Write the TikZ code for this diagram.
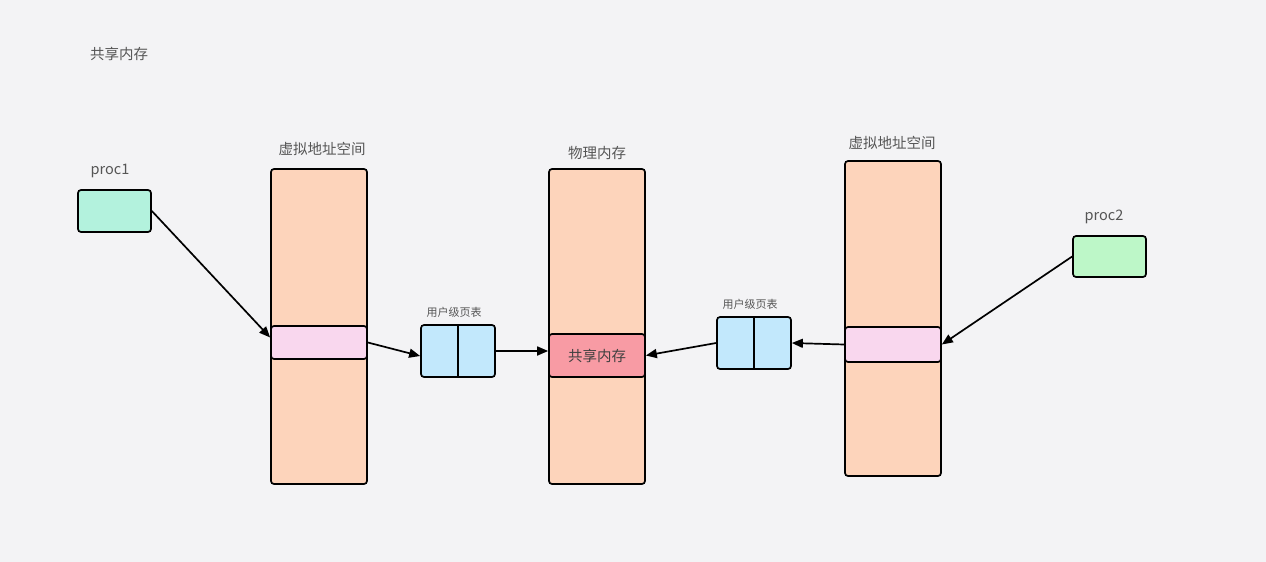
\documentclass[tikz,border=0pt]{standalone}
\usepackage{fontspec}
\setmainfont{Noto Sans CJK SC}
\usetikzlibrary{arrows.meta,calc}
\definecolor{bg}{HTML}{F3F3F5}
\definecolor{proconefill}{HTML}{B3F2DD}
\definecolor{proctwofill}{HTML}{BDF7C8}
\definecolor{spacefill}{HTML}{FDD4BB}
\definecolor{segfill}{HTML}{F9D7EE}
\definecolor{tablefill}{HTML}{C2E8FC}
\definecolor{sharedfill}{HTML}{F89BA4}
\definecolor{labelgray}{HTML}{555555}
\tikzset{
  box/.style={draw=black, line width=1.7pt, rounded corners=3pt, inner sep=0pt},
  lbl/.style={text=labelgray, font=\fontsize{14.5}{16}\selectfont, inner sep=0pt},
  smalllbl/.style={text=labelgray, font=\fontsize{11}{13}\selectfont, inner sep=0pt},
  link/.style={line width=1.7pt, -{Triangle[length=11pt,width=9pt]}},
}
\begin{document}
\begin{tikzpicture}[x=1pt,y=-1pt]
  % canvas
  \fill[bg] (0,0) rectangle (1266,562);
  \useasboundingbox (0,0) rectangle (1266,562);

  \node[lbl] (title) at (119,54) {共享内存};

  % process 1
  \node[lbl] (p1lbl) at (110,171) {proc1};
  \node[box, fill=proconefill, minimum width=73pt, minimum height=42pt] (p1) at (114.5,211) {};

  % virtual address space of process 1
  \node[box, fill=spacefill, minimum width=96pt, minimum height=315pt] (vas1) at (319,326.5) {};
  \node[lbl] (vas1lbl) at (322,149) {虚拟地址空间};
  \node[box, fill=segfill, minimum width=96pt, minimum height=33pt] (seg1) at (319,342.5) {};

  % page table of process 1
  \node[smalllbl] (pt1lbl) at (454,312) {用户级页表};
  \node[box, fill=tablefill, minimum width=74pt, minimum height=52pt] (pt1) at (458,351) {};
  \draw[line width=1.7pt] (pt1.north) -- (pt1.south);

  % physical memory
  \node[box, fill=spacefill, minimum width=96pt, minimum height=315pt] (phys) at (597,326.5) {};
  \node[lbl] (physlbl) at (597,153) {物理内存};
  \node[box, fill=sharedfill, minimum width=96pt, minimum height=43pt,
        text=black!75, font=\fontsize{14.5}{16}\selectfont] (shared) at (597,355.5) {共享内存};

  % page table of process 2
  \node[smalllbl] (pt2lbl) at (750,304) {用户级页表};
  \node[box, fill=tablefill, minimum width=74pt, minimum height=52pt] (pt2) at (754,343) {};
  \draw[line width=1.7pt] (pt2.north) -- (pt2.south);

  % virtual address space of process 2
  \node[box, fill=spacefill, minimum width=96pt, minimum height=315pt] (vas2) at (893,318.5) {};
  \node[lbl] (vas2lbl) at (892,143) {虚拟地址空间};
  \node[box, fill=segfill, minimum width=96pt, minimum height=35pt] (seg2) at (893,344.5) {};

  % process 2
  \node[lbl] (p2lbl) at (1104,217) {proc2};
  \node[box, fill=proctwofill, minimum width=73pt, minimum height=41pt] (p2) at (1109.5,256.5) {};

  % mappings
  \draw[link] (p1.east) -- ([yshift=5pt]seg1.west);
  \draw[link] (seg1.east) -- ([yshift=-5pt]pt1.west);
  \draw[link] (pt1.east) -- (pt1.east -| shared.west);
  \draw[link] (pt2.west) -- (shared.east);
  \draw[link] (seg2.west) -- (pt2.east);
  \draw[link] (p2.west) -- (seg2.east);
\end{tikzpicture}
\end{document}
